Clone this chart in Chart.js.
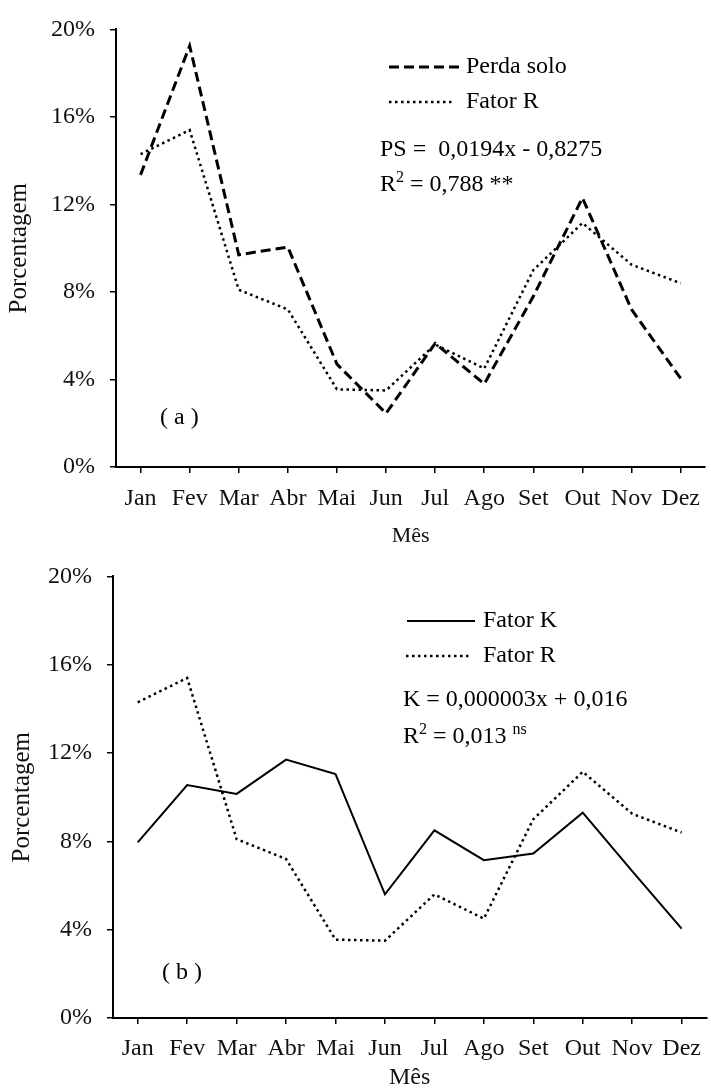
<!DOCTYPE html>
<html>
<head>
<meta charset="utf-8">
<script src="https://cdn.jsdelivr.net/npm/chart.js@4.4.1/dist/chart.umd.min.js"></script>
<style>
  html, body { margin: 0; padding: 0; background: #fff; }
  #wrapA { position: absolute; left: 0; top: 0; width: 711px; height: 547px; }
  #wrapB { position: absolute; left: 0; top: 547px; width: 711px; height: 541px; }
</style>
</head>
<body>
<div id="wrapA"><canvas id="chartA"></canvas></div>
<div id="wrapB"><canvas id="chartB"></canvas></div>
<script>
// Monthly shares (%) of soil loss, erosivity (R) and erodibility (K)
const months = ['Jan', 'Fev', 'Mar', 'Abr', 'Mai', 'Jun', 'Jul', 'Ago', 'Set', 'Out', 'Nov', 'Dez'];
const perdaSolo = [13.35, 19.25, 9.7, 10.05, 4.7, 2.45, 5.65, 3.8, 7.8, 12.3, 7.2, 4.05];
const fatorR = [14.3, 15.4, 8.1, 7.2, 3.55, 3.5, 5.6, 4.5, 9.0, 11.15, 9.25, 8.4];
const fatorK = [7.95, 10.55, 10.15, 11.7, 11.05, 5.6, 8.5, 7.15, 7.45, 9.3, 6.65, 4.05];
const yMin = 0, yMax = 20, yStep = 4;

const serif = "'Liberation Serif', 'Times New Roman', serif";
const textSize = 24;

const styleDashed = { borderColor: '#000', borderWidth: 3, borderDash: [10, 5], borderCapStyle: 'butt' };
const styleDotted = { borderColor: '#000', borderWidth: 2.5, borderDash: [2.5, 3.5], borderCapStyle: 'butt' };
const styleSolid  = { borderColor: '#000', borderWidth: 2, borderDash: [], borderCapStyle: 'butt' };

// Draws a run of text pieces; pieces flagged sup are raised and smaller
function drawRun(ctx, pieces, x, y) {
  let cx = x;
  pieces.forEach(p => {
    const size = p.sup ? 16 : textSize;
    ctx.font = size + 'px ' + serif;
    ctx.fillText(p.t, cx, p.sup ? y - 7 : y);
    cx += ctx.measureText(p.t).width;
  });
}

// In-plot legend, regression equation and panel tag
const annotate = {
  id: 'annotate',
  afterDraw(chart, args, opts) {
    const ctx = chart.ctx;
    ctx.save();
    ctx.fillStyle = '#000';
    ctx.textBaseline = 'middle';
    ctx.textAlign = 'left';
    opts.rows.forEach(r => {
      const ds = chart.data.datasets[r.index];
      ctx.save();
      ctx.strokeStyle = ds.borderColor;
      ctx.lineWidth = ds.borderWidth;
      ctx.setLineDash(ds.borderDash || []);
      ctx.lineCap = ds.borderCapStyle || 'butt';
      ctx.beginPath();
      ctx.moveTo(r.x1, r.y);
      ctx.lineTo(r.x2, r.y);
      ctx.stroke();
      ctx.restore();
      ctx.font = textSize + 'px ' + serif;
      ctx.fillText(ds.label, r.tx, r.y);
    });
    opts.lines.forEach(l => drawRun(ctx, l.pieces, l.x, l.y));
    ctx.font = textSize + 'px ' + serif;
    ctx.fillText(opts.tag.text, opts.tag.x, opts.tag.y);
    ctx.restore();
  }
};

function makeOptions(cfg) {
  return {
    responsive: true,
    maintainAspectRatio: false,
    animation: false,
    devicePixelRatio: 1,
    layout: { padding: { top: cfg.padTop, right: 1, bottom: 0, left: 0 } },
    elements: { point: { radius: 0, hoverRadius: 0 }, line: { tension: 0 } },
    scales: {
      x: {
        type: 'category',
        offset: true,
        afterFit: s => { s.height = cfg.xHeight; },
        grid: { display: true, drawOnChartArea: false, drawTicks: true, tickLength: 6, offset: false, color: '#000', lineWidth: 1.5 },
        border: { display: true, color: '#000', width: 2 },
        ticks: { color: '#111', font: { family: serif, size: textSize, lineHeight: 1.2 }, padding: cfg.xPad, maxRotation: 0, autoSkip: false },
        title: { display: true, text: 'Mês', color: '#111', font: { family: serif, size: cfg.xTitleSize, lineHeight: cfg.xTitleLH }, padding: { top: 0, bottom: 0 } }
      },
      y: {
        min: yMin, max: yMax,
        afterFit: s => { s.width = cfg.yWidth; },
        grid: { display: true, drawOnChartArea: false, drawTicks: true, tickLength: 6, color: '#000', lineWidth: 1.5 },
        border: { display: true, color: '#000', width: 2 },
        ticks: { stepSize: yStep, color: '#111', font: { family: serif, size: textSize }, padding: 15, callback: v => v + '%' },
        title: { display: true, text: 'Porcentagem', color: '#111', font: { family: serif, size: 25, lineHeight: 1 }, padding: { top: cfg.yTitlePad, bottom: 0 } }
      }
    },
    plugins: {
      legend: { display: false },
      tooltip: { enabled: false },
      annotate: cfg.annotate
    }
  };
}

// (a) soil loss vs. erosivity
new Chart(document.getElementById('chartA'), {
  type: 'line',
  data: {
    labels: months,
    datasets: [
      Object.assign({ label: 'Perda solo', data: perdaSolo, fill: false }, styleDashed),
      Object.assign({ label: 'Fator R', data: fatorR, fill: false }, styleDotted)
    ]
  },
  options: makeOptions({
    padTop: 22, xHeight: 80, yWidth: 116, xPad: 11, yTitlePad: 7, xTitleSize: 22, xTitleLH: 1,
    annotate: {
      rows: [
        { index: 0, x1: 389, x2: 460, y: 67, tx: 466 },
        { index: 1, x1: 389, x2: 453, y: 102, tx: 466 }
      ],
      lines: [
        { x: 380, y: 150, pieces: [{ t: 'PS =  0,0194x - 0,8275' }] },
        { x: 380, y: 185, pieces: [{ t: 'R' }, { t: '2', sup: true }, { t: ' = 0,788 **' }] }
      ],
      tag: { text: '( a )', x: 160, y: 418 }
    }
  }),
  plugins: [annotate]
});

// (b) erodibility vs. erosivity
new Chart(document.getElementById('chartB'), {
  type: 'line',
  data: {
    labels: months,
    datasets: [
      Object.assign({ label: 'Fator K', data: fatorK, fill: false }, styleSolid),
      Object.assign({ label: 'Fator R', data: fatorR, fill: false }, styleDotted)
    ]
  },
  options: makeOptions({
    padTop: 18, xHeight: 70, yWidth: 113, xPad: 10, yTitlePad: 10, xTitleSize: 24, xTitleLH: 0.8333,
    annotate: {
      rows: [
        { index: 0, x1: 407, x2: 475, y: 74, tx: 483 },
        { index: 1, x1: 406, x2: 470, y: 109, tx: 483 }
      ],
      lines: [
        { x: 403, y: 153, pieces: [{ t: 'K = 0,000003x + 0,016' }] },
        { x: 403, y: 190, pieces: [{ t: 'R' }, { t: '2', sup: true }, { t: ' = 0,013 ' }, { t: 'ns', sup: true }] }
      ],
      tag: { text: '( b )', x: 162, y: 426 }
    }
  }),
  plugins: [annotate]
});
</script>
</body>
</html>
